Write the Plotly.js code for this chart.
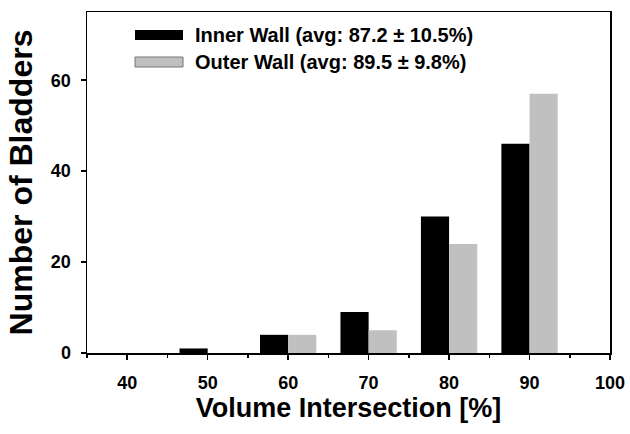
<!DOCTYPE html>
<html>
<head>
<meta charset="utf-8">
<script src="https://cdn.plot.ly/plotly-3.0.1.min.js"></script>
<style>html,body{margin:0;padding:0;background:#fff;}#chart{width:630px;height:434px;}</style>
</head>
<body>
<div id="chart"></div>
<script>
const bins = [40, 50, 60, 70, 80, 90];
const innerWall = [0, 1, 4, 9, 30, 46];
const outerWall = [0, 0, 4, 5, 24, 57];
const seriesNames = ["Inner Wall (avg: 87.2 \u00b1 10.5%)", "Outer Wall (avg: 89.5 \u00b1 9.8%)"];
const xTicks = [40, 50, 60, 70, 80, 90, 100];
const yTicks = [0, 20, 40, 60];

const FONT = "Liberation Sans, Arial, sans-serif";

const traces = [
  {type: "bar", x: bins, y: innerWall, name: seriesNames[0],
   marker: {color: "#000000", line: {width: 0}}, showlegend: false},
  {type: "bar", x: bins, y: outerWall, name: seriesNames[1],
   marker: {color: "#c0c0c0", line: {width: 0}}, showlegend: false}
];

const L = 87, R = 610, T = 12, B = 353;
const px = v => (v - L) / (R - L);
const py = v => (B - v) / (B - T);

const layout = {
  width: 630, height: 434,
  margin: {l: L, r: 630 - R, t: T, b: 434 - B},
  paper_bgcolor: "#ffffff", plot_bgcolor: "#ffffff",
  barmode: "group", bargap: 0.3, bargroupgap: 0,
  showlegend: false,
  font: {family: FONT, color: "#000", size: 18},
  xaxis: {
    range: [35, 100], tickvals: xTicks, ticktext: xTicks.map(String),
    ticks: "outside", ticklen: 5, tickwidth: 1.5, tickcolor: "#000",
    minor: {dtick: 5, tick0: 45, ticks: "outside", ticklen: 3, tickwidth: 1.5, tickcolor: "#000"},
    showline: true, linecolor: "#000", linewidth: 1.5, mirror: true,
    showgrid: false, zeroline: false,
    ticklabelstandoff: 8,
    tickfont: {family: FONT, size: 18, color: "#000", weight: "bold"},
    title: {text: "<b>Volume Intersection [%]</b>", font: {family: FONT, size: 27, color: "#000"}, standoff: 3}
  },
  yaxis: {
    range: [0, 75], tickvals: yTicks, ticktext: yTicks.map(String),
    ticks: "outside", ticklen: 5, tickwidth: 1.5, tickcolor: "#000",
    showline: true, linecolor: "#000", linewidth: 1.5, mirror: true,
    showgrid: false, zeroline: false,
    ticklabelstandoff: 6,
    tickfont: {family: FONT, size: 18, color: "#000", weight: "bold"},
    title: {text: "<b>Number of Bladders</b>", font: {family: FONT, size: 32, color: "#000"}, standoff: 8}
  },
  shapes: [
    {type: "rect", xref: "paper", yref: "paper", x0: px(135), x1: px(183), y0: py(40), y1: py(30),
     fillcolor: "#000", line: {width: 0}},
    {type: "rect", xref: "paper", yref: "paper", x0: px(135), x1: px(183), y0: py(67), y1: py(57),
     fillcolor: "#c0c0c0", line: {width: 1, color: "#777"}}
  ],
  annotations: [
    {xref: "paper", yref: "paper", x: px(193), y: py(35), xanchor: "left", yanchor: "middle",
     text: "<b>" + seriesNames[0] + "</b>", showarrow: false, font: {family: FONT, size: 20, color: "#000"}},
    {xref: "paper", yref: "paper", x: px(193), y: py(62), xanchor: "left", yanchor: "middle",
     text: "<b>" + seriesNames[1] + "</b>", showarrow: false, font: {family: FONT, size: 20, color: "#000"}}
  ]
};

Plotly.newPlot("chart", traces, layout, {displayModeBar: false, staticPlot: true});
</script>
</body>
</html>
